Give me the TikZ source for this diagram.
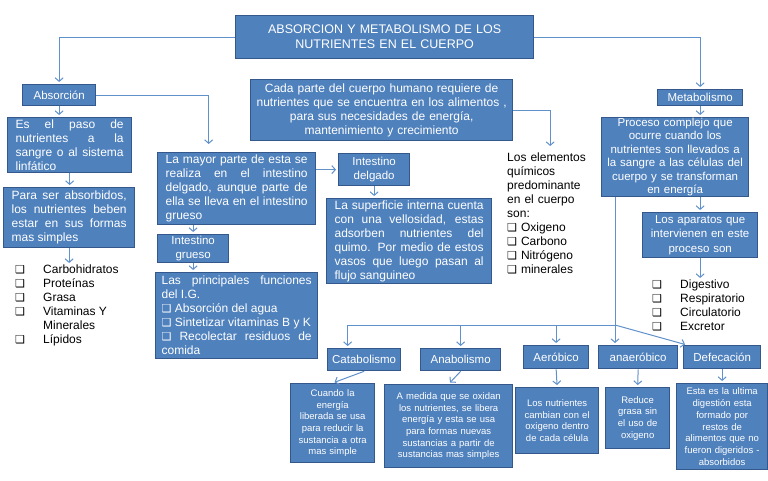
\documentclass[tikz,border=0pt]{standalone}
\usepackage{fontspec}
\setmainfont{Liberation Sans}
\newfontfamily\simbolos{DejaVu Sans}
\usetikzlibrary{arrows.meta}

\definecolor{azulcaja}{RGB}{79,129,189}
\definecolor{bordecaja}{RGB}{52,88,140}
\definecolor{flecha}{RGB}{96,145,203}

\newcommand{\chk}{{\simbolos\fontsize{11}{11}\selectfont ❑}}
\newcommand{\casilla}{\makebox[28pt][l]{\chk}}
\newcommand{\fcuerpo}{\fontsize{12}{14}\selectfont}
\newcommand{\fetiq}{\fontsize{11.5}{13.5}\selectfont}
\newcommand{\fpeq}{\fontsize{9.5}{11.7}\selectfont}

\begin{document}
\begin{tikzpicture}[x=1pt, y=-1pt,
  caja/.style={draw=bordecaja, fill=azulcaja, text=white, line width=1.3pt,
    anchor=north west, inner xsep=8pt, inner ysep=2pt, font=\fcuerpo},
  etiqueta/.style={caja, inner xsep=2pt, inner ysep=1pt, align=center, font=\fetiq},
  pequena/.style={caja, inner xsep=4pt, inner ysep=1pt, align=center, font=\fpeq},
  lista/.style={anchor=north west, inner sep=0pt, align=left, font=\fcuerpo},
  conector/.style={draw=flecha, line width=1pt, shorten >=2pt,
    -{Straight Barb[length=3.5pt,width=8pt]}},
  linea/.style={draw=flecha, line width=1pt}]

\fill[white] (0,0) rectangle (768,480);
\useasboundingbox (0,0) rectangle (768,480);

% 1. Title
\node[caja, text width=282pt, minimum height=43pt, align=center,
  font=\fontsize{12.5}{15}\selectfont] (titulo) at (235,15)
  {ABSORCION Y METABOLISMO DE LOS\\NUTRIENTES EN EL CUERPO};

% 2. Absorcion branch
\node[etiqueta, text width=69pt, minimum height=21pt] (absorcion) at (22,84) {Absorción};
\node[caja, text width=108pt, minimum height=55pt, align=justify] (paso) at (7,117)
  {Es el paso de\linebreak nutrientes a la\linebreak sangre o al sistema\linebreak linfático};
\node[caja, text width=115pt, minimum height=60pt, align=justify] (simples) at (3,187)
  {Para ser absorbidos,\linebreak los nutrientes beben\linebreak estar en sus formas\linebreak mas simples};
\node[lista] (listaabs) at (15,265)
  {\casilla Carbohidratos\\\casilla Proteínas\\\casilla Grasa\\\casilla Vitaminas Y\\
   \hspace*{28pt}Minerales\\\casilla Lípidos};

% 3. Intestines
\node[caja, text width=142pt, minimum height=72pt, align=justify] (mayor) at (157,152)
  {La mayor  parte de esta se\linebreak realiza en el intestino\linebreak delgado, aunque parte de\linebreak
   ella se lleva en el intestino\linebreak grueso};
\node[etiqueta, text width=67pt, minimum height=28pt] (grueso) at (157,234) {Intestino\\grueso};
\node[caja, inner xsep=6pt, text width=150pt, minimum height=86pt, align=justify] (principales) at (155,272)
  {Las principales funciones\linebreak del I.G.\par
   \chk\ Absorción del agua\par
   \chk\ Sintetizar vitaminas B y K\par
   \hangindent=12pt\hangafter=1 \chk\ Recolectar residuos de\linebreak comida};
\node[etiqueta, text width=67pt, minimum height=32pt] (delgado) at (338,153) {Intestino\\delgado};
\node[caja, text width=149pt, minimum height=85pt, align=justify] (superficie) at (326,198)
  {La superficie interna cuenta\linebreak con una vellosidad, estas\linebreak adsorben nutrientes del\linebreak
   quimo.  Por medio de estos\linebreak vasos que luego pasan al\linebreak flujo sanguineo};

% 4. Chemical elements
\node[caja, inner xsep=4pt, text width=254pt, minimum height=61pt, align=center] (cada) at (250,79)
  {Cada parte del cuerpo humano requiere de\\nutrientes que se encuentra en los alimentos ,\\
   para sus necesidades de energía,\\mantenimiento y crecimiento};
\node[lista, text width=86pt] (elementos) at (507,153)
  {Los elementos\\químicos\\predominante\\en el cuerpo\\son:\\\chk\ Oxigeno\\\chk\ Carbono\\
   \chk\ Nitrógeno\\\chk\ minerales};

% 5. Metabolismo branch
\node[etiqueta, text width=81pt, minimum height=16pt] (metabolismo) at (657,89) {Metabolismo};
\node[etiqueta, inner xsep=4pt, inner ysep=0pt, text width=139pt, minimum height=79pt] (proceso) at (601,117)
  {Proceso complejo que\\ocurre cuando los\\nutrientes son llevados a\\la sangre a las células del\\
   cuerpo y se transforman\\en energía};
\node[etiqueta, inner xsep=4pt, text width=107pt, minimum height=45pt,
  font=\fontsize{11.5}{14.5}\selectfont] (aparatos) at (642,212)
  {Los aparatos que\\intervienen en este\\proceso son};
\node[lista] (listamet) at (652,280)
  {\casilla Digestivo\\\casilla Respiratorio\\\casilla Circulatorio\\\casilla Excretor};

% 6. Types of metabolism
\node[etiqueta, text width=69pt, minimum height=22pt] (catabolismo) at (327,348) {Catabolismo};
\node[etiqueta, text width=76pt, minimum height=22pt] (anabolismo) at (420,348) {Anabolismo};
\node[etiqueta, text width=61pt, minimum height=23pt] (aerobico) at (523,345) {Aeróbico};
\node[etiqueta, text width=75pt, minimum height=23pt] (anaerobico) at (598,345) {anaeróbico};
\node[etiqueta, text width=73pt, minimum height=23pt] (defecacion) at (683,345) {Defecación};

\node[pequena, text width=76pt, minimum height=79pt] (cuando) at (290,383)
  {Cuando la\\energía\\liberada se usa\\para reducir la\\sustancia a otra\\mas simple};
\node[pequena, text width=120pt, minimum height=83pt] (medida) at (384,384)
  {A medida que se oxidan\\los nutrientes, se libera\\energía y esta se usa\\para formas nuevas\\
   sustancias  a partir de\\sustancias mas simples};
\node[pequena, text width=75pt, minimum height=66pt] (celula) at (515,387)
  {Los nutrientes\\cambian con el\\oxigeno dentro\\de cada célula};
\node[pequena, text width=56pt, minimum height=61pt] (reduce) at (605,387)
  {Reduce\\grasa sin\\el uso de\\oxigeno};
\node[pequena, text width=83pt, minimum height=86pt] (restos) at (676,383)
  {Esta es la ultima\\digestión esta\\formado por\\restos de\\alimentos  que no\\fueron digeridos -\\absorbidos};

% 7. Connectors
\draw[conector] (titulo.west) -| (absorcion.north);
\draw[conector] (titulo.east) -| (metabolismo.north);
\draw[conector] (absorcion.south) -- (absorcion.south |- paso.north);
\draw[conector] (paso.south) -- (paso.south |- simples.north);
\draw[conector] (simples.south) -- (simples.south |- listaabs.north);
\draw[conector, shorten >=8pt] (absorcion.east) -| ([xshift=-28pt]mayor.north);
\draw[conector] (grueso.north |- mayor.south) -- (grueso.north);
\draw[conector] (grueso.south) -- (grueso.south |- principales.north);
\draw[conector] (delgado.west -| mayor.east) -- (delgado.west);
\draw[conector] (delgado.south) -- (delgado.south |- superficie.north);
\draw[conector, shorten >=7pt] (cada.east) -| (elementos.north);
\draw[conector] (metabolismo.south) -- (metabolismo.south |- proceso.north);
\draw[conector] (aparatos.north |- proceso.south) -- (aparatos.north);
\draw[conector] (aparatos.south) -- (aparatos.south |- listamet.north);

\coordinate (rama) at (615,325);
\draw[linea] (proceso.south -| rama) -- (rama);
\draw[conector] (rama) -- (rama |- anaerobico.north);
\draw[conector] (rama) -| ([xshift=-16.5pt]catabolismo.north);
\draw[conector] (anabolismo.north |- rama) -- (anabolismo.north);
\draw[conector] (aerobico.north |- rama) -- (aerobico.north);
\draw[conector] (rama) -- ([xshift=4pt]defecacion.north west);

\draw[conector] (catabolismo.south) -- (cuando.north);
\draw[conector] (anabolismo.south) -- (medida.north);
\draw[conector] (aerobico.south) -- (celula.north);
\draw[conector] (anaerobico.south) -- (reduce.north);
\draw[conector] (defecacion.south) -- (restos.north);

\end{tikzpicture}
\end{document}
